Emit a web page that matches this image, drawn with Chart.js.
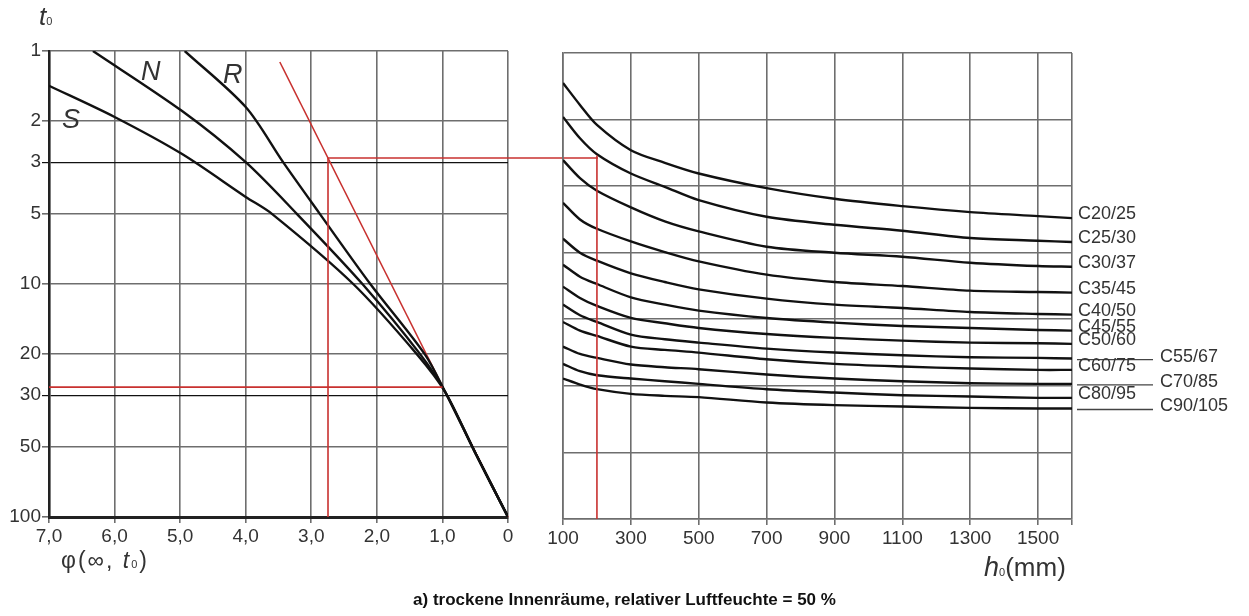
<!DOCTYPE html>
<html>
<head>
<meta charset="utf-8">
<script src="https://cdn.jsdelivr.net/npm/chart.js@4.4.1/dist/chart.umd.min.js"></script>
<style>
html, body { margin: 0; padding: 0; background: #fff; }
#wrap { position: relative; width: 1249px; height: 616px; font-family: "Liberation Sans", Arial, sans-serif; color: #333; }
canvas { position: absolute; left: 0; top: 0; }
.lbl { position: absolute; white-space: nowrap; line-height: 1; }
.it { font-style: italic; }
.sub { font-size: 11px; font-style: normal; }
</style>
</head>
<body>
<div id="wrap">
  <canvas id="left" width="1249" height="616"></canvas>
  <canvas id="right" width="1249" height="616"></canvas>
  <div class="lbl it" style="left:39px;top:3px;font-size:26px;">t<span class="sub">0</span></div>
  <div class="lbl it" style="left:62px;top:106px;font-size:27px;">S</div>
  <div class="lbl it" style="left:141px;top:58px;font-size:27px;">N</div>
  <div class="lbl it" style="left:223px;top:61px;font-size:27px;">R</div>
  <div class="lbl" style="left:61px;top:549px;font-size:23px;letter-spacing:2px;">φ(∞, <span class="it">t</span><span class="sub">0</span>)</div>
  <div class="lbl" style="left:984px;top:554px;font-size:26px;"><span class="it" style="font-size:27px;">h</span><span class="sub">0</span>(mm)</div>
  <div class="lbl" style="left:0;width:1249px;text-align:center;top:591px;font-size:17px;font-weight:bold;color:#111;">a) trockene Innenräume, relativer Luftfeuchte = 50 %</div>
</div>
<script>
const family = '"Liberation Sans", Arial, sans-serif';

// left panel: t0 (log) against phi(inf, t0)
const tTicks = [1, 2, 3, 5, 10, 20, 30, 50, 100];
const phiTicks = [0, 1, 2, 3, 4, 5, 6, 7];

const curveS = [[7.0, 1.41], [6.0, 1.92], [4.97, 2.77], [4.0, 4.23], [3.6, 5.0], [2.36, 10], [1.39, 20], [0.96, 29], [0.5, 53], [0, 100]];
const curveN = [[6.33, 1.0], [4.97, 1.81], [4.0, 3.0], [3.22, 5.0], [2.22, 10], [1.34, 20], [0.96, 29], [0.5, 53], [0, 100]];
const curveR = [[4.93, 1.0], [4.0, 1.74], [3.43, 3.0], [2.87, 5.0], [2.10, 10], [1.27, 20], [0.96, 29], [0.5, 53], [0, 100]];

// red reading lines
const redDiagonal = [[0, 100], [3.48, 1.115]];
const redLowH = [[7.0, 27.7], [1.0, 27.7]];
const redVert = [[2.745, 2.88], [2.745, 100]];
const redTopH = [[2.745, 2.88], [-1.373, 2.88]];

// right panel: h0 against concrete classes
const hTicks = [100, 300, 500, 700, 900, 1100, 1300, 1500, 1600];
const rowTicks = [0, 1, 2, 3, 4, 5, 6, 7];
const hValues = [100, 150, 200, 300, 400, 500, 700, 900, 1100, 1300, 1500, 1600];

const c20_25 = [0.45, 0.78, 1.08, 1.46, 1.65, 1.81, 2.03, 2.19, 2.30, 2.39, 2.45, 2.48];
const c25_30 = [0.96, 1.28, 1.52, 1.81, 2.01, 2.21, 2.46, 2.58, 2.67, 2.78, 2.82, 2.84];
const c30_37 = [1.61, 1.88, 2.07, 2.32, 2.53, 2.68, 2.91, 3.00, 3.06, 3.15, 3.20, 3.21];
const c35_45 = [2.25, 2.50, 2.64, 2.83, 2.99, 3.13, 3.33, 3.44, 3.50, 3.57, 3.59, 3.60];
const c40_50 = [2.79, 3.00, 3.12, 3.31, 3.44, 3.55, 3.69, 3.78, 3.83, 3.89, 3.92, 3.93];
const c45_55 = [3.18, 3.36, 3.47, 3.67, 3.78, 3.87, 3.98, 4.05, 4.10, 4.13, 4.16, 4.17];
const c50_60 = [3.51, 3.68, 3.80, 3.98, 4.06, 4.13, 4.22, 4.28, 4.32, 4.35, 4.36, 4.37];
const c55_67 = [3.78, 3.94, 4.04, 4.23, 4.30, 4.35, 4.44, 4.50, 4.54, 4.57, 4.58, 4.59];
const c60_75 = [4.04, 4.17, 4.25, 4.41, 4.46, 4.50, 4.60, 4.67, 4.71, 4.74, 4.76, 4.76];
const c70_85 = [4.41, 4.52, 4.58, 4.68, 4.72, 4.75, 4.83, 4.89, 4.93, 4.96, 4.97, 4.97];
const c80_95 = [4.67, 4.78, 4.84, 4.89, 4.93, 4.97, 5.05, 5.10, 5.14, 5.16, 5.18, 5.18];
const c90_105 = [4.89, 4.98, 5.05, 5.12, 5.15, 5.17, 5.25, 5.29, 5.31, 5.33, 5.34, 5.34];

const classNames = ['C20/25', 'C25/30', 'C30/37', 'C35/45', 'C40/50', 'C45/55', 'C50/60', 'C55/67', 'C60/75', 'C70/85', 'C80/95', 'C90/105'];
const classSeries = [c20_25, c25_30, c30_37, c35_45, c40_50, c45_55, c50_60, c55_67, c60_75, c70_85, c80_95, c90_105];
const leaderClasses = ['C55/67', 'C70/85', 'C90/105'];

const redReadH = [[200, 1.54], [200, 7]];

const RED = '#c8312f';
const GRID = '#6e6e6e';

const toXY = arr => arr.map(p => ({ x: p[0], y: p[1] }));

const blackLine = (label, pts) => ({
  label, data: toXY(pts), borderColor: '#111', borderWidth: 2.4,
  tension: 0.3, pointRadius: 0, fill: false
});
const redLine = (label, pts) => ({
  label, data: toXY(pts), borderColor: RED, borderWidth: 1.6,
  pointRadius: 0, fill: false, tension: 0, clip: false
});

const common = {
  responsive: false,
  animation: false,
  devicePixelRatio: 1,
  events: [],
  plugins: { legend: { display: false }, tooltip: { enabled: false } },
  elements: { point: { radius: 0 } }
};

new Chart(document.getElementById('left'), {
  type: 'line',
  data: {
    datasets: [
      redLine('lowH', redLowH),
      redLine('vert', redVert),
      redLine('topH', redTopH),
      blackLine('S', curveS),
      blackLine('N', curveN),
      blackLine('R', curveR),
      redLine('diag', redDiagonal)
    ]
  },
  options: {
    ...common,
    layout: { autoPadding: false, padding: { left: 0, right: 741, top: 51, bottom: 69 } },
    scales: {
      x: {
        type: 'linear', reverse: true, min: 0, max: 7,
        afterBuildTicks: s => { s.ticks = phiTicks.map(v => ({ value: v })); },
        afterFit: s => { s.height = 30; },
        grid: { color: GRID, lineWidth: 1.6, tickLength: 6 },
        border: { color: '#222', width: 3 },
        ticks: {
          callback: v => v === 0 ? '0' : v.toFixed(1).replace('.', ','),
          font: { size: 19, family }, color: '#333', padding: 2, maxRotation: 0, autoSkip: false
        }
      },
      y: {
        type: 'logarithmic', reverse: true, min: 1, max: 100,
        afterBuildTicks: s => { s.ticks = tTicks.map(v => ({ value: v })); },
        afterFit: s => { s.width = 49; },
        grid: {
          color: c => (c.tick && (c.tick.value === 3 || c.tick.value === 30)) ? '#111' : GRID,
          lineWidth: c => (c.tick && (c.tick.value === 3 || c.tick.value === 30)) ? 1.2 : 1.6,
          tickLength: 7
        },
        border: { color: '#222', width: 2.6 },
        ticks: {
          callback: v => String(v),
          font: { size: 19, family }, color: '#333', padding: 1, autoSkip: false
        }
      }
    }
  }
});

const classLabelPlugin = {
  id: 'classLabels',
  afterDatasetsDraw(chart) {
    const ctx = chart.ctx;
    ctx.save();
    ctx.font = '18px ' + family;
    ctx.fillStyle = '#333';
    ctx.textBaseline = 'middle';
    chart.data.datasets.forEach((ds, i) => {
      if (!classNames.includes(ds.label)) return;
      const pts = chart.getDatasetMeta(i).data;
      const end = pts[pts.length - 1];
      if (leaderClasses.includes(ds.label)) {
        ctx.strokeStyle = '#444';
        ctx.lineWidth = 1.3;
        ctx.beginPath();
        ctx.moveTo(end.x + 5, end.y + 1);
        ctx.lineTo(end.x + 81, end.y + 1);
        ctx.stroke();
        ctx.fillText(ds.label, end.x + 88, end.y - 2);
      } else {
        ctx.fillText(ds.label, end.x + 6, end.y - 4);
      }
    });
    ctx.restore();
  }
};

new Chart(document.getElementById('right'), {
  type: 'line',
  data: {
    datasets: [redLine('readH', redReadH)].concat(
      classSeries.map((vals, i) => blackLine(classNames[i], vals.map((v, j) => [hValues[j], v])))
    )
  },
  options: {
    ...common,
    layout: { autoPadding: false, padding: { left: 563, right: 177, top: 53, bottom: 67 } },
    scales: {
      x: {
        type: 'linear', min: 100, max: 1600,
        afterBuildTicks: s => { s.ticks = hTicks.map(v => ({ value: v })); },
        afterFit: s => { s.height = 30; },
        grid: { color: GRID, lineWidth: 1.6, tickLength: 6 },
        border: { color: GRID, width: 1.6 },
        ticks: {
          callback: v => v === 1600 ? '' : String(v),
          font: { size: 19, family }, color: '#333', padding: 2, maxRotation: 0, autoSkip: false
        }
      },
      y: {
        type: 'linear', reverse: true, min: 0, max: 7,
        afterBuildTicks: s => { s.ticks = rowTicks.map(v => ({ value: v })); },
        afterFit: s => { s.width = 0; },
        grid: { color: GRID, lineWidth: 1.6, drawTicks: false },
        border: { color: GRID, width: 1.6 },
        ticks: { display: false }
      }
    }
  },
  plugins: [classLabelPlugin]
});
</script>
</body>
</html>
